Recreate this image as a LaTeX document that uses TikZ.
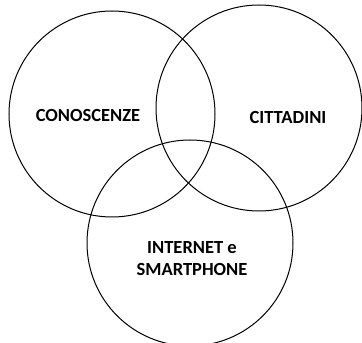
\documentclass[tikz,border=0pt]{standalone}
\usepackage{fontspec}
\setmainfont{Carlito}

\begin{document}
\begin{tikzpicture}[x=1pt, y=1pt, line width=1pt]
      \tikzstyle{set} = [circle, draw=black, minimum size=206pt, inner sep=0pt]
      \tikzstyle{word} = [font=\bfseries\fontsize{18.5}{22}\selectfont, color=black, align=center]
      \useasboundingbox (0,0) rectangle (362,343);
      \node (CON) [set] at (112,229) {};
      \node (CIT) [set] at (259,235) {};
      \node (NET) [set] at (190,100) {};
      \node (conoscenze) [word] at (88,228) {CONOSCENZE};
      \node (cittadini) [word] at (288,226) {CITTADINI};
      \node (internet) [word] at (192,84) {INTERNET e\\SMARTPHONE};
    \end{tikzpicture}
\end{document}
